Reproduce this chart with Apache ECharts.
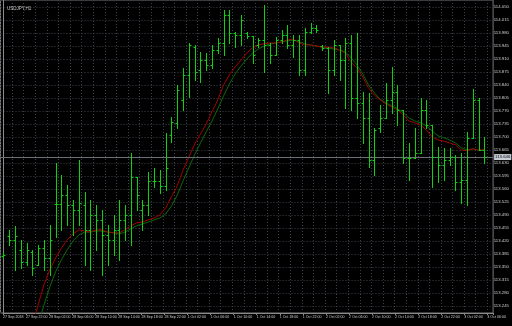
<!DOCTYPE html>
<html><head><meta charset="utf-8">
<script src="https://cdn.jsdelivr.net/npm/echarts@6/dist/echarts.min.js"></script>
<style>html,body{margin:0;padding:0;background:#000}#c{width:512px;height:326px}</style>
</head><body><div id="c"></div>
<script>
const chartTitle = 'USDJPY,H1';
const timeLabels = ['27 Sep 2018','27 Sep 22:00','28 Sep 02:00','28 Sep 06:00','28 Sep 10:00','28 Sep 14:00','28 Sep 18:00','28 Sep 22:00','1 Oct 02:00','1 Oct 06:00','1 Oct 10:00','1 Oct 14:00','1 Oct 18:00','1 Oct 22:00','2 Oct 02:00','2 Oct 06:00','2 Oct 10:00','2 Oct 14:00','2 Oct 18:00','2 Oct 22:00','3 Oct 02:00','3 Oct 06:00'];
const priceMin = 113.245, priceMax = 114.050, priceStep = 0.035;

const open = [113.380,113.434,113.423,113.396,113.364,113.391,113.356,113.401,113.374,113.520,
113.520,113.544,113.517,113.504,113.517,113.450,113.490,113.477,113.436,113.423,
113.450,113.477,113.490,113.593,113.504,113.517,113.582,113.582,113.568,113.706,
113.738,113.800,113.867,113.942,113.881,113.907,113.894,113.934,113.953,114.029,
113.980,113.975,113.980,113.972,113.948,113.961,113.948,113.921,113.961,113.975,
113.948,113.961,113.881,113.983,113.994,113.945,113.940,113.881,113.948,113.907,
113.953,113.805,113.792,113.751,113.638,113.724,113.751,113.800,113.821,113.773,
113.644,113.644,113.657,113.773,113.732,113.646,113.625,113.638,113.646,113.579,
113.584,113.698,113.800,113.665];
const high = [113.391,113.450,113.461,113.423,113.415,113.396,113.409,113.423,113.463,113.630,
113.598,113.571,113.531,113.638,113.552,113.531,113.517,113.504,113.463,113.490,
113.531,113.517,113.657,113.593,113.531,113.606,113.617,113.611,113.711,113.754,
113.840,113.886,113.953,113.948,113.929,113.926,113.948,113.967,114.042,114.042,
113.983,114.029,113.983,113.972,113.967,114.056,113.953,113.969,113.988,114.002,
113.975,113.975,113.994,114.007,114.002,113.948,113.942,113.961,113.948,113.967,
113.975,113.980,113.821,113.819,113.724,113.786,113.846,113.889,113.840,113.773,
113.684,113.724,113.805,113.800,113.732,113.673,113.671,113.671,113.652,113.657,
113.714,113.829,113.805,113.700];
const low = [113.374,113.409,113.342,113.348,113.356,113.329,113.356,113.342,113.329,113.431,
113.450,113.463,113.436,113.463,113.356,113.342,113.396,113.329,113.356,113.383,
113.369,113.423,113.409,113.504,113.450,113.490,113.566,113.549,113.558,113.687,
113.724,113.773,113.808,113.854,113.848,113.881,113.886,113.926,113.921,113.953,
113.942,113.948,113.967,113.899,113.942,113.875,113.899,113.921,113.953,113.940,
113.916,113.867,113.867,113.980,113.983,113.934,113.819,113.867,113.854,113.778,
113.773,113.751,113.684,113.619,113.598,113.714,113.751,113.765,113.732,113.630,
113.584,113.644,113.657,113.724,113.566,113.579,113.584,113.625,113.558,113.523,
113.517,113.698,113.665,113.630];
const close = [113.383,113.423,113.434,113.364,113.396,113.348,113.401,113.374,113.423,113.520,
113.544,113.517,113.504,113.523,113.450,113.490,113.477,113.436,113.423,113.450,
113.477,113.490,113.593,113.544,113.517,113.582,113.582,113.568,113.617,113.741,
113.827,113.867,113.948,113.875,113.907,113.894,113.934,113.953,114.029,113.980,
113.975,114.015,113.972,113.921,113.961,113.948,113.921,113.961,113.975,113.948,
113.961,113.881,113.983,113.994,113.988,113.940,113.881,113.948,113.907,113.953,
113.805,113.792,113.751,113.638,113.719,113.751,113.800,113.821,113.773,113.644,
113.644,113.657,113.773,113.732,113.646,113.625,113.638,113.646,113.579,113.584,
113.698,113.800,113.665,113.646];
const maRed = [null,null,null,null,113.140,113.194,113.248,113.302,113.342,113.374,
113.401,113.423,113.439,113.450,113.447,113.444,113.450,113.450,113.444,113.442,
113.442,113.450,113.461,113.469,113.471,113.477,113.482,113.490,113.509,113.539,
113.568,113.611,113.646,113.681,113.708,113.735,113.768,113.800,113.840,113.867,
113.889,113.907,113.926,113.940,113.948,113.951,113.953,113.953,113.956,113.961,
113.964,113.953,113.948,113.948,113.945,113.942,113.942,113.940,113.934,113.926,
113.902,113.886,113.862,113.832,113.813,113.800,113.789,113.781,113.773,113.759,
113.743,113.738,113.732,113.719,113.700,113.692,113.689,113.684,113.679,113.665,
113.663,113.668,113.665,113.665];
const maGreen = [null,null,null,null,null,113.140,113.194,113.248,113.296,113.337,
113.369,113.396,113.420,113.436,113.444,113.444,113.447,113.447,113.444,113.442,
113.439,113.444,113.453,113.461,113.466,113.471,113.477,113.482,113.493,113.514,
113.544,113.582,113.617,113.652,113.684,113.714,113.743,113.776,113.811,113.843,
113.870,113.891,113.910,113.926,113.937,113.945,113.951,113.953,113.956,113.959,
113.961,113.956,113.951,113.948,113.945,113.942,113.940,113.937,113.934,113.929,
113.913,113.894,113.870,113.840,113.819,113.802,113.792,113.784,113.776,113.765,
113.751,113.743,113.738,113.730,113.716,113.703,113.698,113.692,113.684,113.671,
113.665,113.668,113.665,113.665];

// layout
const L = 0.5, R = 18.9, plotTop = 0, plotBottom = 13;
const labTop = 7, labBottom = 20;
const H = 326;
const ppx = (priceMax - priceMin) / ((H - labBottom) - labTop);
const dataMax = priceMax + (labTop - plotTop) * ppx;
const dataMin = priceMin - ((H - plotBottom) - (H - labBottom)) * ppx;
const nSlots = open.length + 1;
const cats = [];
for (let i = 0; i < nSlots; i++) cats.push(String(i));
const ohlc = open.map((o, i) => [i, o, close[i], low[i], high[i]]);
const barColor = '#10d010';
const gridColor = '#3b424c';
const font = 'Liberation Sans';

const chart = echarts.init(document.getElementById('c'), null, {renderer: 'canvas'});
chart.setOption({
  backgroundColor: '#000000',
  animation: false,
  title: {text: chartTitle, left: 2, top: 1, textStyle: {color: '#c8c8c8', fontSize: 4.5, fontWeight: 'normal', fontFamily: font}},
  grid: [
    {left: L, right: R, top: plotTop, bottom: plotBottom, show: true, borderColor: '#777', borderWidth: 1, backgroundColor: 'transparent'},
    {left: L, right: R, top: plotTop, bottom: plotBottom},
    {left: L, right: R, top: labTop, bottom: labBottom}
  ],
  xAxis: [
    {gridIndex: 0, type: 'category', data: cats, boundaryGap: true,
     axisLine: {show: false}, axisTick: {show: false}, axisLabel: {show: false},
     splitLine: {show: true, interval: (i) => i % 2 === 0, lineStyle: {color: gridColor, type: [1, 2], width: 1}}},
    {gridIndex: 1, type: 'value', min: 0, max: nSlots, interval: 4,
     axisLine: {show: true, lineStyle: {color: '#8a8a8a'}},
     axisTick: {show: true, length: 2, lineStyle: {color: '#8a8a8a'}},
     splitLine: {show: false},
     axisLabel: {show: true, margin: 2, align: 'left', color: '#d0d0d0', fontSize: 3.6, fontFamily: font,
       formatter: (v) => (v % 4 === 0 && timeLabels[v / 4] !== undefined) ? timeLabels[v / 4] : ''}},
    {gridIndex: 2, type: 'value', min: 0, max: 1, show: false}
  ],
  yAxis: [
    {gridIndex: 0, type: 'value', min: dataMin, max: dataMax, show: false, splitLine: {show: false}},
    {gridIndex: 1, type: 'value', min: 0, max: 1, position: 'right',
     axisLine: {show: true, lineStyle: {color: '#8a8a8a'}}, axisTick: {show: false}, axisLabel: {show: false}, splitLine: {show: false}},
    {gridIndex: 2, type: 'value', min: priceMin, max: priceMax, interval: priceStep, position: 'right',
     axisLine: {show: false}, axisTick: {show: false},
     axisLabel: {show: true, margin: 3, color: '#d0d0d0', fontSize: 4.3, fontFamily: font, formatter: (v) => v.toFixed(3)},
     splitLine: {show: true, lineStyle: {color: gridColor, type: [1, 2], width: 1}}}
  ],
  series: [
    {type: 'line', name: 'MA2', xAxisIndex: 0, yAxisIndex: 0, data: maGreen, showSymbol: false, clip: true,
     lineStyle: {color: '#0b6a0b', width: 1}, z: 3},
    {type: 'line', name: 'MA1', xAxisIndex: 0, yAxisIndex: 0, data: maRed, showSymbol: false, clip: true,
     lineStyle: {color: '#a40000', width: 1}, z: 4,
     markLine: {silent: true, symbol: 'none', precision: 3,
       lineStyle: {color: '#6a6f76', type: 'solid', width: 1},
       label: {show: true, position: 'end', distance: 1, color: '#000', backgroundColor: '#c5ccd4', fontSize: 4.3, fontFamily: font, padding: [1, 1],
         formatter: (p) => Number(p.value).toFixed(3)},
       data: [{yAxis: close[close.length - 1]}]}},
    {type: 'custom', name: 'bars', xAxisIndex: 0, yAxisIndex: 0, data: ohlc, z: 5,
     encode: {x: 0, y: [1, 2, 3, 4]},
     renderItem: (params, api) => {
       const idx = api.value(0);
       const o = api.coord([idx, api.value(1)]);
       const c = api.coord([idx, api.value(2)]);
       const l = api.coord([idx, api.value(3)]);
       const h = api.coord([idx, api.value(4)]);
       const cx = Math.round(o[0]) + 0.5;
       const t = 2;
       const oy = Math.round(o[1]) + 0.5, cy = Math.round(c[1]) + 0.5;
       const st = {stroke: barColor, lineWidth: 1};
       return {type: 'group', children: [
         {type: 'line', shape: {x1: cx, y1: Math.round(h[1]), x2: cx, y2: Math.round(l[1]) + 1}, style: st},
         {type: 'line', shape: {x1: cx - t, y1: oy, x2: cx, y2: oy}, style: st},
         {type: 'line', shape: {x1: cx, y1: cy, x2: cx + t, y2: cy}, style: st}
       ]};
     }}
  ]
});
</script></body></html>
